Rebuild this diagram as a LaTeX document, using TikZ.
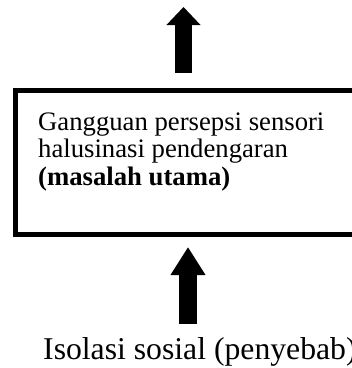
\documentclass[tikz,border=0pt]{standalone}
\usepackage{fontspec}
\setmainfont{Liberation Serif}
\usetikzlibrary{arrows.meta,calc}
\begin{document}
\begin{tikzpicture}[x=1pt,y=-1pt,
  blockarrow/.style={line width=17pt,-{Triangle[width=33pt,length=18pt]}},
  blockarrowb/.style={line width=18pt,-{Triangle[width=33pt,length=28pt]}},
  mainbox/.style={draw,line width=5pt,minimum width=360pt,minimum height=144pt,inner sep=0pt,anchor=north west},
  boxtext/.style={inner sep=0pt,anchor=base west},
  causetext/.style={inner sep=0pt,anchor=base west,font=\fontsize{31.7pt}{34pt}\selectfont}]
\useasboundingbox (0,0) rectangle (352,368);
\node[mainbox] (box) at (13,88) {};
\node[boxtext] (maintext) at (38,130) {\fontsize{26.7pt}{27.5pt}\selectfont\begin{tabular}[t]{@{}l@{}}Gangguan persepsi sensori\\halusinasi pendengaran\\\textbf{(masalah utama)}\end{tabular}};
\node[causetext] (cause) at (43,359) {Isolasi sosial (penyebab)};
\coordinate (toptip) at (183.5,7);
\coordinate (bx) at (188,0);
\draw[blockarrow,shorten <=15pt] (toptip |- box.north) -- (toptip);
\draw[blockarrowb,shorten <=13pt,shorten >=10pt] (bx |- cause.north) -- (bx |- box.south);
\end{tikzpicture}
\end{document}
